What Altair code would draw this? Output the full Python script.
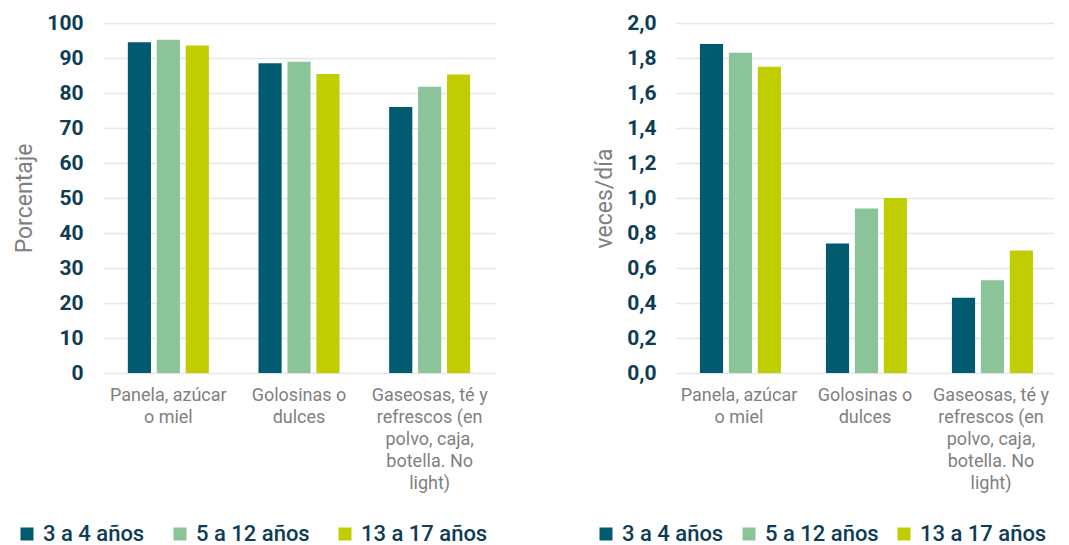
import altair as alt
import pandas as pd

categories = [
    "Panela, azúcar o miel",
    "Golosinas o dulces",
    "Gaseosas, té y refrescos (en polvo, caja, botella. No light)",
]
label_lines = [
    ["Panela, azúcar", "o miel"],
    ["Golosinas o", "dulces"],
    ["Gaseosas, té y", "refrescos (en", "polvo, caja,", "botella. No", "light)"],
]
groups = ["3 a 4 años", "5 a 12 años", "13 a 17 años"]
colors = ["#005a70", "#8cc49a", "#c0cd00"]

pct_3_4 = [94.5, 88.5, 76.0]
pct_5_12 = [95.2, 88.9, 81.8]
pct_13_17 = [93.6, 85.4, 85.3]

freq_3_4 = [1.88, 0.74, 0.43]
freq_5_12 = [1.83, 0.94, 0.53]
freq_13_17 = [1.75, 1.00, 0.70]

pct_ticks = list(range(0, 101, 10))
freq_ticks = [round(i * 0.2, 1) for i in range(11)]


def make_df(series):
    rows = []
    for g, vals in zip(groups, series):
        for c, v in zip(categories, vals):
            rows.append({"categoria": c, "grupo": g, "valor": v})
    return pd.DataFrame(rows)


df_pct = make_df([pct_3_4, pct_5_12, pct_13_17])
df_freq = make_df([freq_3_4, freq_5_12, freq_13_17])

label_expr = ""
for c, lines in zip(categories[:-1], label_lines[:-1]):
    arr = "[" + ",".join("'" + l + "'" for l in lines) + "]"
    label_expr += "datum.value == '" + c + "' ? " + arr + " : "
label_expr += "[" + ",".join("'" + l + "'" for l in label_lines[-1]) + "]"

DARK = "#0d3c55"
GRAY = "#7f7f7f"
FONT = "Roboto"


def panel(df, width, ticks, title, ymax, label_fmt_expr, legend_x, col_pad):
    x_axis = alt.Axis(
        title=None, labelAngle=0, labelExpr=label_expr, labelFontSize=18,
        labelColor=GRAY, labelLineHeight=22, labelPadding=13, domain=False,
        ticks=False, labelLimit=300, labelFont=FONT,
    )
    y_axis = alt.Axis(
        values=ticks, title=title, grid=True, gridColor="#e6e6e6", gridWidth=1.5,
        domain=False, ticks=False, labelFontSize=21, labelFontWeight="bold",
        labelColor=DARK, labelPadding=20, labelFont=FONT,
        titleFontSize=23, titleFontWeight="normal", titleColor=GRAY,
        titlePadding=10, titleFont=FONT, labelExpr=label_fmt_expr,
    )
    return alt.Chart(df).mark_bar().encode(
        x=alt.X("categoria:N", sort=categories, axis=x_axis,
                scale=alt.Scale(paddingInner=0.38, paddingOuter=0.19)),
        xOffset=alt.XOffset("grupo:N", sort=groups,
                            scale=alt.Scale(paddingInner=0.2, paddingOuter=0)),
        y=alt.Y("valor:Q", axis=y_axis,
                scale=alt.Scale(domain=[0, ymax], nice=False)),
        color=alt.Color(
            "grupo:N", sort=groups,
            scale=alt.Scale(domain=groups, range=colors),
            legend=alt.Legend(
                title=None, orient="none", direction="horizontal",
                legendX=legend_x, legendY=500, symbolType="square",
                symbolSize=169, symbolStrokeWidth=0, labelFontSize=22,
                labelFontWeight=500, labelColor=DARK, labelFont=FONT,
                labelOffset=5, columnPadding=col_pad,
            ),
        ),
    ).properties(width=width, height=350)


left = panel(df_pct, 392, pct_ticks, "Porcentaje", 100, "datum.label", -87, 24)
right = panel(df_freq, 378, freq_ticks, "veces/día", 2.0,
              "replace(format(datum.value, '.1f'), '.', ',')", -81, 14)

chart = alt.hconcat(left, right, spacing=98).resolve_legend(
    color="independent"
).resolve_scale(color="independent").properties(
    padding={"left": 5, "top": 4, "right": 0, "bottom": 0}
).configure_view(stroke=None)

chart.save("out.html", embed_options={"renderer": "svg", "actions": False})
